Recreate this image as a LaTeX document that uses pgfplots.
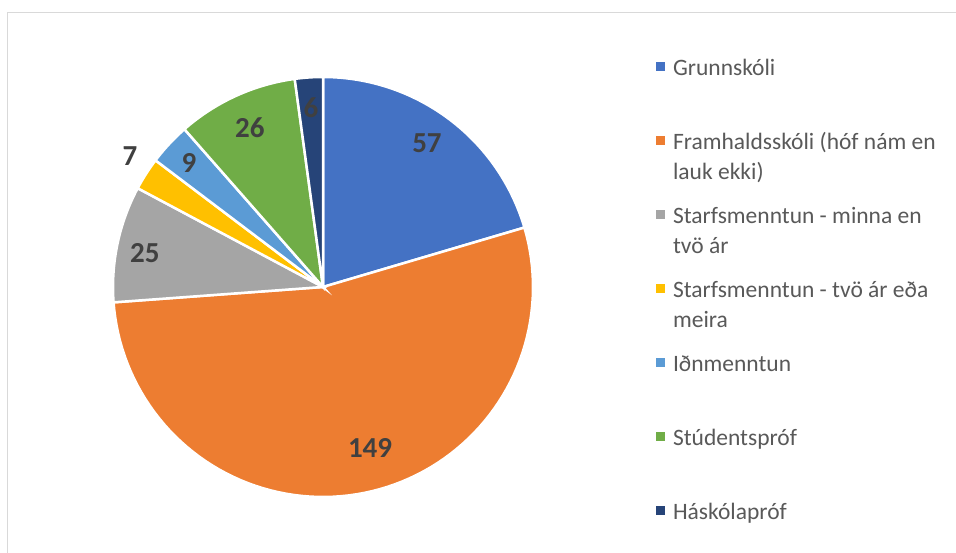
\documentclass[border=0pt]{standalone}
\usepackage{pgfplots}
\pgfplotsset{compat=1.18}
\usepackage{pgfplotstable}
\usepackage{fontspec}
\setmainfont{Carlito}
\definecolor{cA}{HTML}{4472C4}
\definecolor{cB}{HTML}{ED7D31}
\definecolor{cC}{HTML}{A5A5A5}
\definecolor{cD}{HTML}{FFC000}
\definecolor{cE}{HTML}{5B9BD5}
\definecolor{cF}{HTML}{70AD47}
\definecolor{cG}{HTML}{264478}
\definecolor{lbl}{HTML}{404040}
\definecolor{legtxt}{HTML}{595959}
\definecolor{frame}{HTML}{D9D9D9}

\pgfplotstableread{
val
57
149
25
7
9
26
6
}\pietable

\newcommand\piewedge[2]{%
  \edef\tmp{\noexpand\addplot[fill=#2, draw=white, line width=2.5bp, domain=\csname pe#1\endcsname:\csname ps#1\endcsname, samples=90] ({cos(x)},{sin(x)}) -- (axis cs:0,0) -- cycle;}\tmp}
\newcommand\lgtwo[2]{\vtop{\hbox{\strut #1}\hbox{\strut #2}}}
\newcommand\lgone[1]{\vtop{\hbox{\strut #1}\hbox{\strut}}}

\begin{document}
\begin{tikzpicture}[x=1bp,y=1bp]
% cumulative angles (clockwise from 12 o'clock)
\def\total{0}
\foreach \i in {0,...,6}{%
  \pgfplotstablegetelem{\i}{val}\of{\pietable}%
  \pgfmathsetmacro\t{\total+\pgfplotsretval}%
  \xdef\total{\t}%
}
\def\cum{0}
\foreach \i in {0,...,6}{%
  \pgfplotstablegetelem{\i}{val}\of{\pietable}%
  \pgfmathsetmacro\s{90-360*(\cum/\total)}%
  \pgfmathsetmacro\newcum{\cum+\pgfplotsretval}%
  \pgfmathsetmacro\e{90-360*(\newcum/\total)}%
  \expandafter\xdef\csname ps\i\endcsname{\s}%
  \expandafter\xdef\csname pe\i\endcsname{\e}%
  \xdef\cum{\newcum}%
}
\useasboundingbox (0,0) rectangle (956,553);
\fill[white] (0,0) rectangle (956,553);
\draw[frame, line width=1.2bp] (7.5,-5) -- (7.5,540.5) -- (962,540.5);
\begin{axis}[
  at={(323bp,266bp)}, anchor=center,
  scale only axis, width=420bp, height=420bp,
  xmin=-1, xmax=1, ymin=-1, ymax=1,
  hide axis, clip=false,
  legend image code/.code={\fill[#1,draw=none] (0bp,5bp) rectangle (9bp,14bp);},
  legend cell align=left,
  legend style={at={(axis description cs:1.293,1.053)}, anchor=north west,
    draw=none, fill=none, inner sep=0pt, outer sep=0pt,
    font=\fontsize{23.5bp}{30bp}\selectfont, text=legtxt,
    nodes={inner sep=0pt, anchor=base west},
    row sep=51.5bp, column sep=8bp},
]
\piewedge{0}{cA}
\piewedge{1}{cB}
\piewedge{2}{cC}
\piewedge{3}{cD}
\piewedge{4}{cE}
\piewedge{5}{cF}
\piewedge{6}{cG}
\legend{\lgone{Grunnskóli},
  \lgtwo{Framhaldsskóli (hóf nám en}{lauk ekki)},
  \lgtwo{Starfsmenntun - minna en}{tvö ár},
  \lgtwo{Starfsmenntun - tvö ár eða}{meira},
  \lgone{Iðnmenntun},
  \lgone{Stúdentspróf},
  \lgone{Háskólapróf}}
\begin{scope}[every node/.style={font=\fontsize{29bp}{32bp}\selectfont\bfseries, text=lbl}]
\node at (axis cs:0.495,0.686) {57};
\node at (axis cs:0.224,-0.767) {149};
\node at (axis cs:-0.848,0.162) {25};
\node at (axis cs:-0.919,0.624) {7};
\node at (axis cs:-0.638,0.590) {9};
\node at (axis cs:-0.348,0.757) {26};
\node at (axis cs:-0.057,0.852) {6};
\end{scope}
\end{axis}
\end{tikzpicture}
\end{document}
